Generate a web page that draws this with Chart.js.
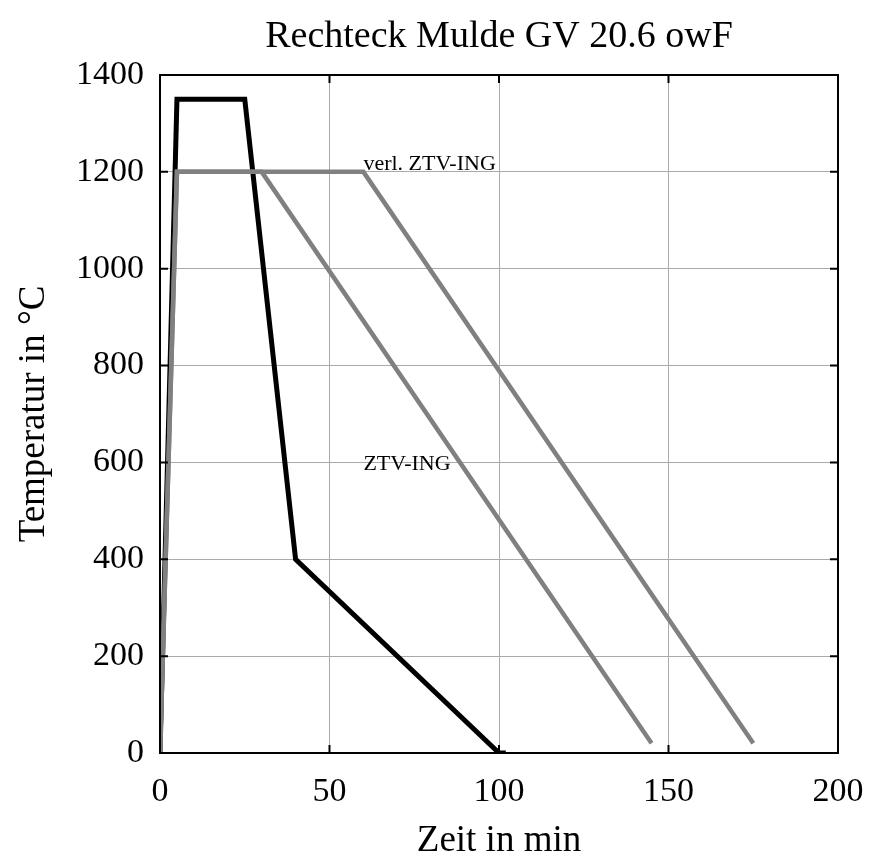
<!DOCTYPE html>
<html><head><meta charset="utf-8">
<script src="https://cdn.jsdelivr.net/npm/chart.js@4"></script>
<style>html,body{margin:0;padding:0;background:#fff}#wrap{width:871px;height:857px}</style>
</head><body><div id="wrap"><canvas id="c" width="871" height="857"></canvas></div>
<script>
const titleText = "Rechteck Mulde GV 20.6 owF";
const xTitle = "Zeit in min";
const yTitle = "Temperatur in °C";

const blackX = [0, 5, 25, 40, 100, 102];
const blackY = [0, 1350, 1350, 400, 0, 0];

const ztvX = [0, 5, 30, 145];
const ztvY = [0, 1200, 1200, 20];

const verlX = [0, 5, 60, 175];
const verlY = [0, 1200, 1200, 20];

const labelTexts = ["verl. ZTV-ING", "ZTV-ING"];
const labelX = [60, 60];
const labelY = [1203, 585];

const xTicks = [0, 50, 100, 150, 200];
const yTicks = [0, 200, 400, 600, 800, 1000, 1200, 1400];

const FONT = "'Liberation Serif', 'DejaVu Serif', serif";
const toPts = (xs, ys) => xs.map((x, i) => ({x, y: ys[i]}));

const framePlugin = {
  id: 'frame',
  afterDatasetsDraw(chart) {
    const {ctx, chartArea: a, scales: {x, y}} = chart;
    ctx.save();
    ctx.fillStyle = '#000';
    // title
    ctx.font = "38px " + FONT;
    ctx.textAlign = 'center';
    ctx.textBaseline = 'alphabetic';
    ctx.fillText(titleText, (a.left + a.right) / 2, 47);
    // labels
    ctx.font = "22px " + FONT;
    ctx.textAlign = 'left';
    labelTexts.forEach((t, i) => {
      ctx.fillText(t, x.getPixelForValue(labelX[i]), y.getPixelForValue(labelY[i]));
    });
    // frame
    ctx.strokeStyle = '#000';
    ctx.lineWidth = 2;
    ctx.strokeRect(a.left, a.top, a.right - a.left, a.bottom - a.top);
    // inside ticks
    ctx.beginPath();
    xTicks.forEach(v => {
      const px = x.getPixelForValue(v);
      ctx.moveTo(px, a.bottom); ctx.lineTo(px, a.bottom - 8);
      ctx.moveTo(px, a.top); ctx.lineTo(px, a.top + 8);
    });
    yTicks.forEach(v => {
      const py = y.getPixelForValue(v);
      ctx.moveTo(a.left, py); ctx.lineTo(a.left + 8, py);
      ctx.moveTo(a.right, py); ctx.lineTo(a.right - 8, py);
    });
    ctx.stroke();
    ctx.restore();
  }
};

new Chart(document.getElementById('c'), {
  type: 'line',
  data: {
    datasets: [
      {label: 'verl. ZTV-ING', data: toPts(verlX, verlY), borderColor: '#808080', borderWidth: 4.5, pointRadius: 0, tension: 0, borderCapStyle: 'butt'},
      {label: 'ZTV-ING', data: toPts(ztvX, ztvY), borderColor: '#808080', borderWidth: 4.5, pointRadius: 0, tension: 0, borderCapStyle: 'butt'},
      {label: 'Rechteck', data: toPts(blackX, blackY), borderColor: '#000000', borderWidth: 5, pointRadius: 0, tension: 0, borderCapStyle: 'butt'}
    ]
  },
  options: {
    responsive: false,
    animation: false,
    devicePixelRatio: 1,
    layout: {padding: {left: 0, right: 33, top: 75, bottom: 0}},
    plugins: {
      legend: {display: false},
      tooltip: {enabled: false},
      title: {display: false}
    },
    scales: {
      x: {
        type: 'linear', min: 0, max: 200,
        afterBuildTicks: s => { s.ticks = xTicks.map(v => ({value: v})); },
        afterFit: s => { s.height = 104; s.paddingLeft = 0; s.paddingRight = 0; },
        grid: {color: '#aaa', lineWidth: 1, borderDash: [1, 2], drawTicks: false},
        border: {display: false},
        ticks: {color: '#000', font: {family: FONT, size: 34}, padding: 19, maxRotation: 0, callback: v => String(v)},
        title: {display: true, text: xTitle, color: '#000', font: {family: FONT, size: 37}, padding: {top: 0, bottom: -6}}
      },
      y: {
        type: 'linear', min: 0, max: 1400,
        afterBuildTicks: s => { s.ticks = yTicks.map(v => ({value: v})); },
        afterFit: s => { s.width = 160; s.paddingTop = 0; s.paddingBottom = 0; },
        grid: {color: '#aaa', lineWidth: 1, borderDash: [1, 2], drawTicks: false},
        border: {display: false},
        ticks: {color: '#000', font: {family: FONT, size: 34}, padding: 16, callback: v => String(v)},
        title: {display: true, text: yTitle, color: '#000', font: {family: FONT, size: 37}, padding: {top: 12, bottom: 0}}
      }
    }
  },
  plugins: [framePlugin]
});
</script></body></html>
